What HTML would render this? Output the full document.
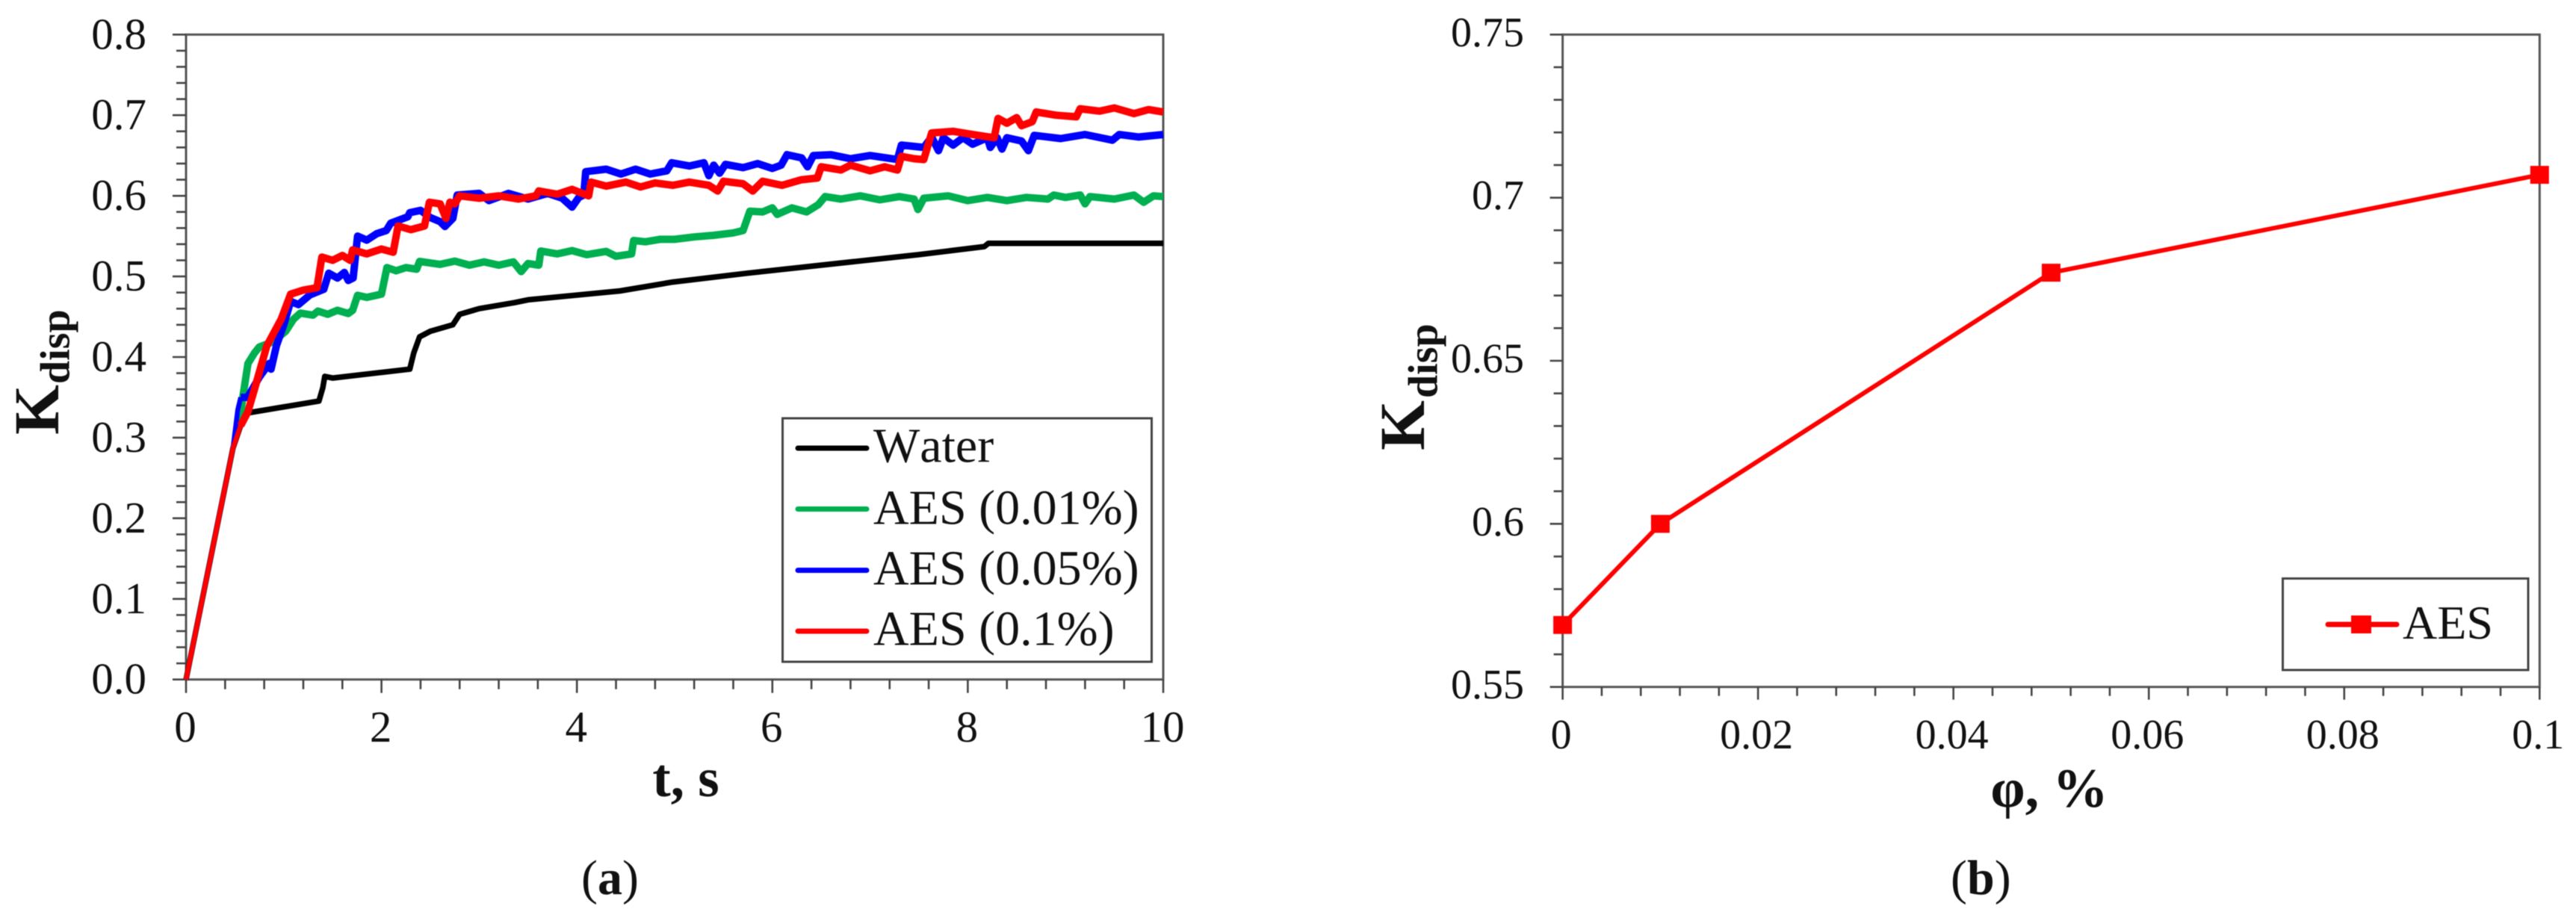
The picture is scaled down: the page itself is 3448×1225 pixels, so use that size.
<!DOCTYPE html>
<html lang="en">
<head>
<meta charset="utf-8">
<title>Kdisp vs time and concentration</title>
<style>
html,body{margin:0;padding:0;background:#fff;width:3448px;height:1225px;overflow:hidden}
svg{display:block;filter:blur(0.6px)}
text{font-family:"Liberation Serif","DejaVu Serif",serif;fill:#111;font-kerning:none}
</style>
</head>
<body>
<svg id="figure" xmlns="http://www.w3.org/2000/svg" width="3448" height="1225" viewBox="0 0 3448 1225">
  <rect x="0" y="0" width="3448" height="1225" fill="#fff"/>
  <g id="chartA"></g>
  <g id="chartB"></g>

  <text x="918" y="1066" font-size="73" font-weight="bold" text-anchor="middle">t, s</text>
  <text transform="translate(78 582) rotate(-90)" font-size="86" font-weight="bold">K</text>
  <text transform="translate(92.5 514) rotate(-90)" font-size="56" font-weight="bold">disp</text>

  <g>
    <rect x="1047.5" y="560" width="494" height="326" fill="#fff" stroke="#444" stroke-width="3"/>
    <line x1="1068" x2="1160" y1="600" y2="600" stroke="#000" stroke-width="7" stroke-linecap="round"/>
    <text x="1169" y="618.5" font-size="66">Water</text>
    <line x1="1068" x2="1160" y1="681.5" y2="681.5" stroke="#00b050" stroke-width="7" stroke-linecap="round"/>
    <text x="1169" y="701.5" font-size="66">AES (0.01%)</text>
    <line x1="1068" x2="1160" y1="763.5" y2="763.5" stroke="#0000ff" stroke-width="7" stroke-linecap="round"/>
    <text x="1169" y="782.5" font-size="66">AES (0.05%)</text>
    <line x1="1068" x2="1160" y1="845" y2="845" stroke="#ff0000" stroke-width="7" stroke-linecap="round"/>
    <text x="1169" y="863.5" font-size="66">AES (0.1%)</text>
  </g>

  <text x="778" y="1197" font-size="66">(<tspan font-weight="bold">a</tspan>)</text>

  <text x="2743" y="1080" font-size="74" font-weight="bold" text-anchor="middle">φ, %</text>
  <text transform="translate(1906 603) rotate(-90)" font-size="86" font-weight="bold">K</text>
  <text transform="translate(1923.5 533) rotate(-90)" font-size="56" font-weight="bold">disp</text>

  <g>
    <rect x="3055.5" y="774.5" width="328.5" height="122.5" fill="#fff" stroke="#444" stroke-width="3"/>
    <line x1="3116" x2="3208" y1="836" y2="836" stroke="#ff0000" stroke-width="7" stroke-linecap="round"/>
    <rect x="3147" y="824" width="27" height="24" fill="#ff0000"/>
    <text x="3216" y="855" font-size="64">AES</text>
  </g>

  <text x="2611" y="1197" font-size="66">(<tspan font-weight="bold">b</tspan>)</text>
</svg>

<script>
// ---- Chart (a) values ----
const aXTickLabels = ['0','2','4','6','8','10'];
const aYTickLabels = ['0.0','0.1','0.2','0.3','0.4','0.5','0.6','0.7','0.8'];

const waterT = [0,.48,.56,.60,1.36,1.40,1.42,1.5,2.29,2.33,2.39,2.5,2.73,2.80,3.0,3.36,3.5,4.44,4.98,5.74,6.5,7.5,8.17,8.21,10];
const waterK = [0,.287,.315,.33,.3454,.362,.376,.374,.385,.405,.425,.432,.44,.453,.46,.4675,.471,.482,.493,.504,.514,.527,.537,.541,.541];

const greenT = [0,.48,.56,.583,.634,.70,.75,.87,.95,1.02,1.1,1.17,1.3,1.35,1.45,1.55,1.66,1.705,1.755,1.85,2.0,2.056,2.15,2.25,2.36,2.39,2.6,2.75,2.9,3.05,3.2,3.35,3.43,3.5,3.61,3.63,3.8,3.95,4.1,4.3,4.4,4.56,4.58,4.7,4.85,5.0,5.2,5.4,5.6,5.70,5.77,5.9,6.0,6.05,6.2,6.35,6.47,6.54,6.7,6.9,7.1,7.3,7.45,7.49,7.55,7.8,8.0,8.2,8.4,8.6,8.82,8.88,9.0,9.15,9.2,9.25,9.5,9.7,9.8,9.9,10];
const greenK = [0,.287,.33,.352,.392,.405,.4125,.418,.425,.432,.447,.4545,.452,.457,.453,.458,.454,.458,.4765,.474,.478,.511,.507,.511,.509,.5186,.515,.519,.514,.518,.514,.518,.506,.516,.514,.5315,.528,.532,.527,.531,.525,.528,.5445,.543,.546,.546,.549,.551,.554,.557,.581,.580,.585,.577,.585,.580,.589,.599,.596,.600,.595,.599,.596,.583,.597,.600,.594,.598,.594,.598,.596,.601,.598,.601,.590,.599,.596,.601,.592,.600,.599];

const blueT = [0,.48,.53,.56,.63,.75,.852,.87,.925,1.0,1.07,1.15,1.267,1.41,1.46,1.55,1.62,1.66,1.71,1.755,1.85,1.95,2.05,2.095,2.27,2.29,2.4,2.5,2.6,2.65,2.73,2.775,3.0,3.1,3.3,3.5,3.7,3.85,3.95,4.02,4.07,4.09,4.3,4.45,4.6,4.75,4.92,4.97,5.15,5.3,5.35,5.4,5.46,5.52,5.7,5.85,6.0,6.09,6.15,6.3,6.36,6.42,6.6,6.8,7.0,7.28,7.32,7.55,7.63,7.7,7.75,7.85,7.95,8.05,8.2,8.23,8.3,8.35,8.4,8.55,8.62,8.68,8.95,9.2,9.4,9.48,9.55,9.75,10];
const blueK = [0,.287,.335,.35,.35,.375,.392,.385,.414,.44,.469,.465,.477,.484,.504,.498,.505,.495,.498,.55,.545,.553,.557,.566,.574,.579,.582,.573,.568,.562,.572,.601,.603,.594,.603,.596,.603,.597,.586,.598,.601,.63,.633,.627,.633,.627,.631,.641,.637,.641,.625,.638,.628,.639,.635,.640,.634,.638,.651,.647,.636,.650,.651,.646,.650,.645,.663,.660,.673,.656,.672,.663,.672,.664,.672,.660,.672,.658,.672,.668,.656,.675,.671,.676,.671,.669,.676,.673,.676];

const redT = [0,.48,.56,.633,.7,.827,.974,1.07,1.2,1.34,1.39,1.5,1.6,1.68,1.705,1.85,2.0,2.12,2.17,2.3,2.44,2.49,2.6,2.66,2.70,2.75,2.80,3.0,3.2,3.4,3.58,3.61,3.8,3.95,4.12,4.145,4.3,4.5,4.65,4.8,4.98,5.15,5.35,5.44,5.5,5.7,5.8,5.9,6.1,6.3,6.46,6.5,6.7,6.8,7.0,7.15,7.28,7.32,7.45,7.55,7.63,7.85,8.05,8.27,8.31,8.4,8.5,8.55,8.66,8.7,8.9,9.11,9.15,9.35,9.5,9.7,9.85,10];
const redK = [0,.287,.315,.332,.36,.414,.447,.478,.483,.486,.524,.52,.526,.52,.533,.528,.534,.53,.5626,.558,.5626,.592,.59,.572,.592,.59,.60,.597,.6,.596,.6,.606,.602,.608,.6,.617,.612,.617,.611,.616,.613,.617,.613,.606,.618,.615,.606,.618,.613,.62,.622,.636,.632,.638,.631,.636,.632,.649,.646,.645,.678,.68,.676,.672,.696,.69,.697,.687,.692,.704,.70,.698,.708,.705,.709,.702,.707,.704];

// ---- Chart (b) values ----
const bXTickLabels = ['0','0.02','0.04','0.06','0.08','0.1'];
const bYTickLabels = ['0.55','0.6','0.65','0.7','0.75'];
const aesPhi = [0,0.01,0.05,0.1];
const aesK = [0.569,0.6,0.677,0.707];

// ---- Axis functions ----
const ns = 'http://www.w3.org/2000/svg';
function mk(tag, attrs, parent) {
  const el = document.createElementNS(ns, tag);
  for (const k in attrs) el.setAttribute(k, attrs[k]);
  parent.appendChild(el);
  return el;
}
function scale(d0, d1, r0, r1) {
  return function (v) { return r0 + (v - d0) / (d1 - d0) * (r1 - r0); };
}
const xA = scale(0, 10, 249, 1557);
const yA = scale(0, 0.8, 909.7, 46.3);
const xB = scale(0, 0.1, 2091.6, 3399.3);
const yB = scale(0.55, 0.75, 919.7, 46.3);

function drawAxes(root, prefix, x, y, xLabels, yLabels, cfg) {
  const xv = xLabels.map(Number);
  const yv = yLabels.map(Number);
  const frame = mk('rect', {
    x: x(xv[0]), y: y(yv[yv.length - 1]),
    width: x(xv[xv.length - 1]) - x(xv[0]), height: y(yv[0]) - y(yv[yv.length - 1]),
    fill: 'none', stroke: '#555', 'stroke-width': 3
  }, root);
  
  

  const gx = mk('g', {}, root);
  
  
  const gy = mk('g', {}, root);
  
  

  xv.forEach(function (v, i) {
    const px = x(v);
    const t = mk('line', { x1: px, x2: px, y1: y(yv[0]), y2: y(yv[0]) + cfg.major, stroke: '#444', 'stroke-width': 2.6 }, gx);
    
    
    const lb = mk('text', { x: px + cfg.xLabelDx, y: cfg.xLabelY, 'font-size': cfg.fontSize, 'text-anchor': 'middle' }, gx);
    lb.textContent = xLabels[i];
    
    
    if (i < xv.length - 1) {
      for (let m = 1; m < 5; m++) {
        const mx = x(v + (xv[i + 1] - v) * m / 5);
        const mt = mk('line', { x1: mx, x2: mx, y1: y(yv[0]), y2: y(yv[0]) + cfg.minor, stroke: '#444', 'stroke-width': 2.6 }, gx);
        
        
      }
    }
  });

  yv.forEach(function (v, i) {
    const py = y(v);
    const t = mk('line', { x1: x(xv[0]) - cfg.major, x2: x(xv[0]), y1: py, y2: py, stroke: '#444', 'stroke-width': 2.6 }, gy);
    
    
    const lb = mk('text', { x: cfg.yLabelX, y: py + cfg.yLabelDy, 'font-size': cfg.fontSize, 'text-anchor': 'end' }, gy);
    lb.textContent = yLabels[i];
    
    
    if (i < yv.length - 1) {
      for (let m = 1; m < cfg.yMinorDiv; m++) {
        const my = y(v + (yv[i + 1] - v) * m / cfg.yMinorDiv);
        const mt = mk('line', { x1: x(xv[0]) - cfg.minor, x2: x(xv[0]), y1: my, y2: my, stroke: '#444', 'stroke-width': 2.6 }, gy);
        
        
      }
    }
  });
}

function linePath(xs, ys, x, y) {
  return xs.map(function (v, i) {
    return (i ? 'L' : 'M') + x(v).toFixed(1) + ' ' + y(ys[i]).toFixed(1);
  }).join('');
}

// The clean initial rise is drawn thin; the noisy remainder reads as a wider band.
function drawNoisySeries(root, name, ts, ks, color) {
  const split = ts.findIndex(function (v) { return v >= 0.56; });
  const rise = mk('path', { d: linePath(ts.slice(0, split + 1), ks.slice(0, split + 1), xA, yA), fill: 'none', stroke: color, 'stroke-width': 6.5, 'stroke-linejoin': 'round' }, root);
  
  
  const band = mk('path', { d: linePath(ts.slice(split), ks.slice(split), xA, yA), fill: 'none', stroke: color, 'stroke-width': 10, 'stroke-linejoin': 'round' }, root);
  
  
}

// ---- Chart (a) ----
const chartA = document.getElementById('chartA');
drawAxes(chartA, 'chart-a', xA, yA, aXTickLabels, aYTickLabels, {
  major: 18, minor: 13, fontSize: 59, xLabelDx: -1, xLabelY: 993,
  yLabelX: 196, yLabelDy: 19, yMinorDiv: 5
});

const waterLine = mk('path', { d: linePath(waterT, waterK, xA, yA), fill: 'none', stroke: '#000000', 'stroke-width': 7.5, 'stroke-linejoin': 'round' }, chartA);



drawNoisySeries(chartA, 'series-aes-0-01', greenT, greenK, '#00b050');
drawNoisySeries(chartA, 'series-aes-0-05', blueT, blueK, '#0000ff');
drawNoisySeries(chartA, 'series-aes-0-1', redT, redK, '#ff0000');

// ---- Chart (b) ----
const chartB = document.getElementById('chartB');
drawAxes(chartB, 'chart-b', xB, yB, bXTickLabels, bYTickLabels, {
  major: 17, minor: 12, fontSize: 56, xLabelDx: -2, xLabelY: 1002,
  yLabelX: 2040, yLabelDy: 15.5, yMinorDiv: 5
});

const aesLine = mk('path', { d: linePath(aesPhi, aesK, xB, yB), fill: 'none', stroke: '#ff0000', 'stroke-width': 6, 'stroke-linejoin': 'round' }, chartB);



aesPhi.forEach(function (v, i) {
  const pt = mk('rect', { x: xB(v) - 12.5, y: yB(aesK[i]) - 12, width: 25, height: 24, fill: '#ff0000' }, chartB);
  
  
});
</script>
</body>
</html>
